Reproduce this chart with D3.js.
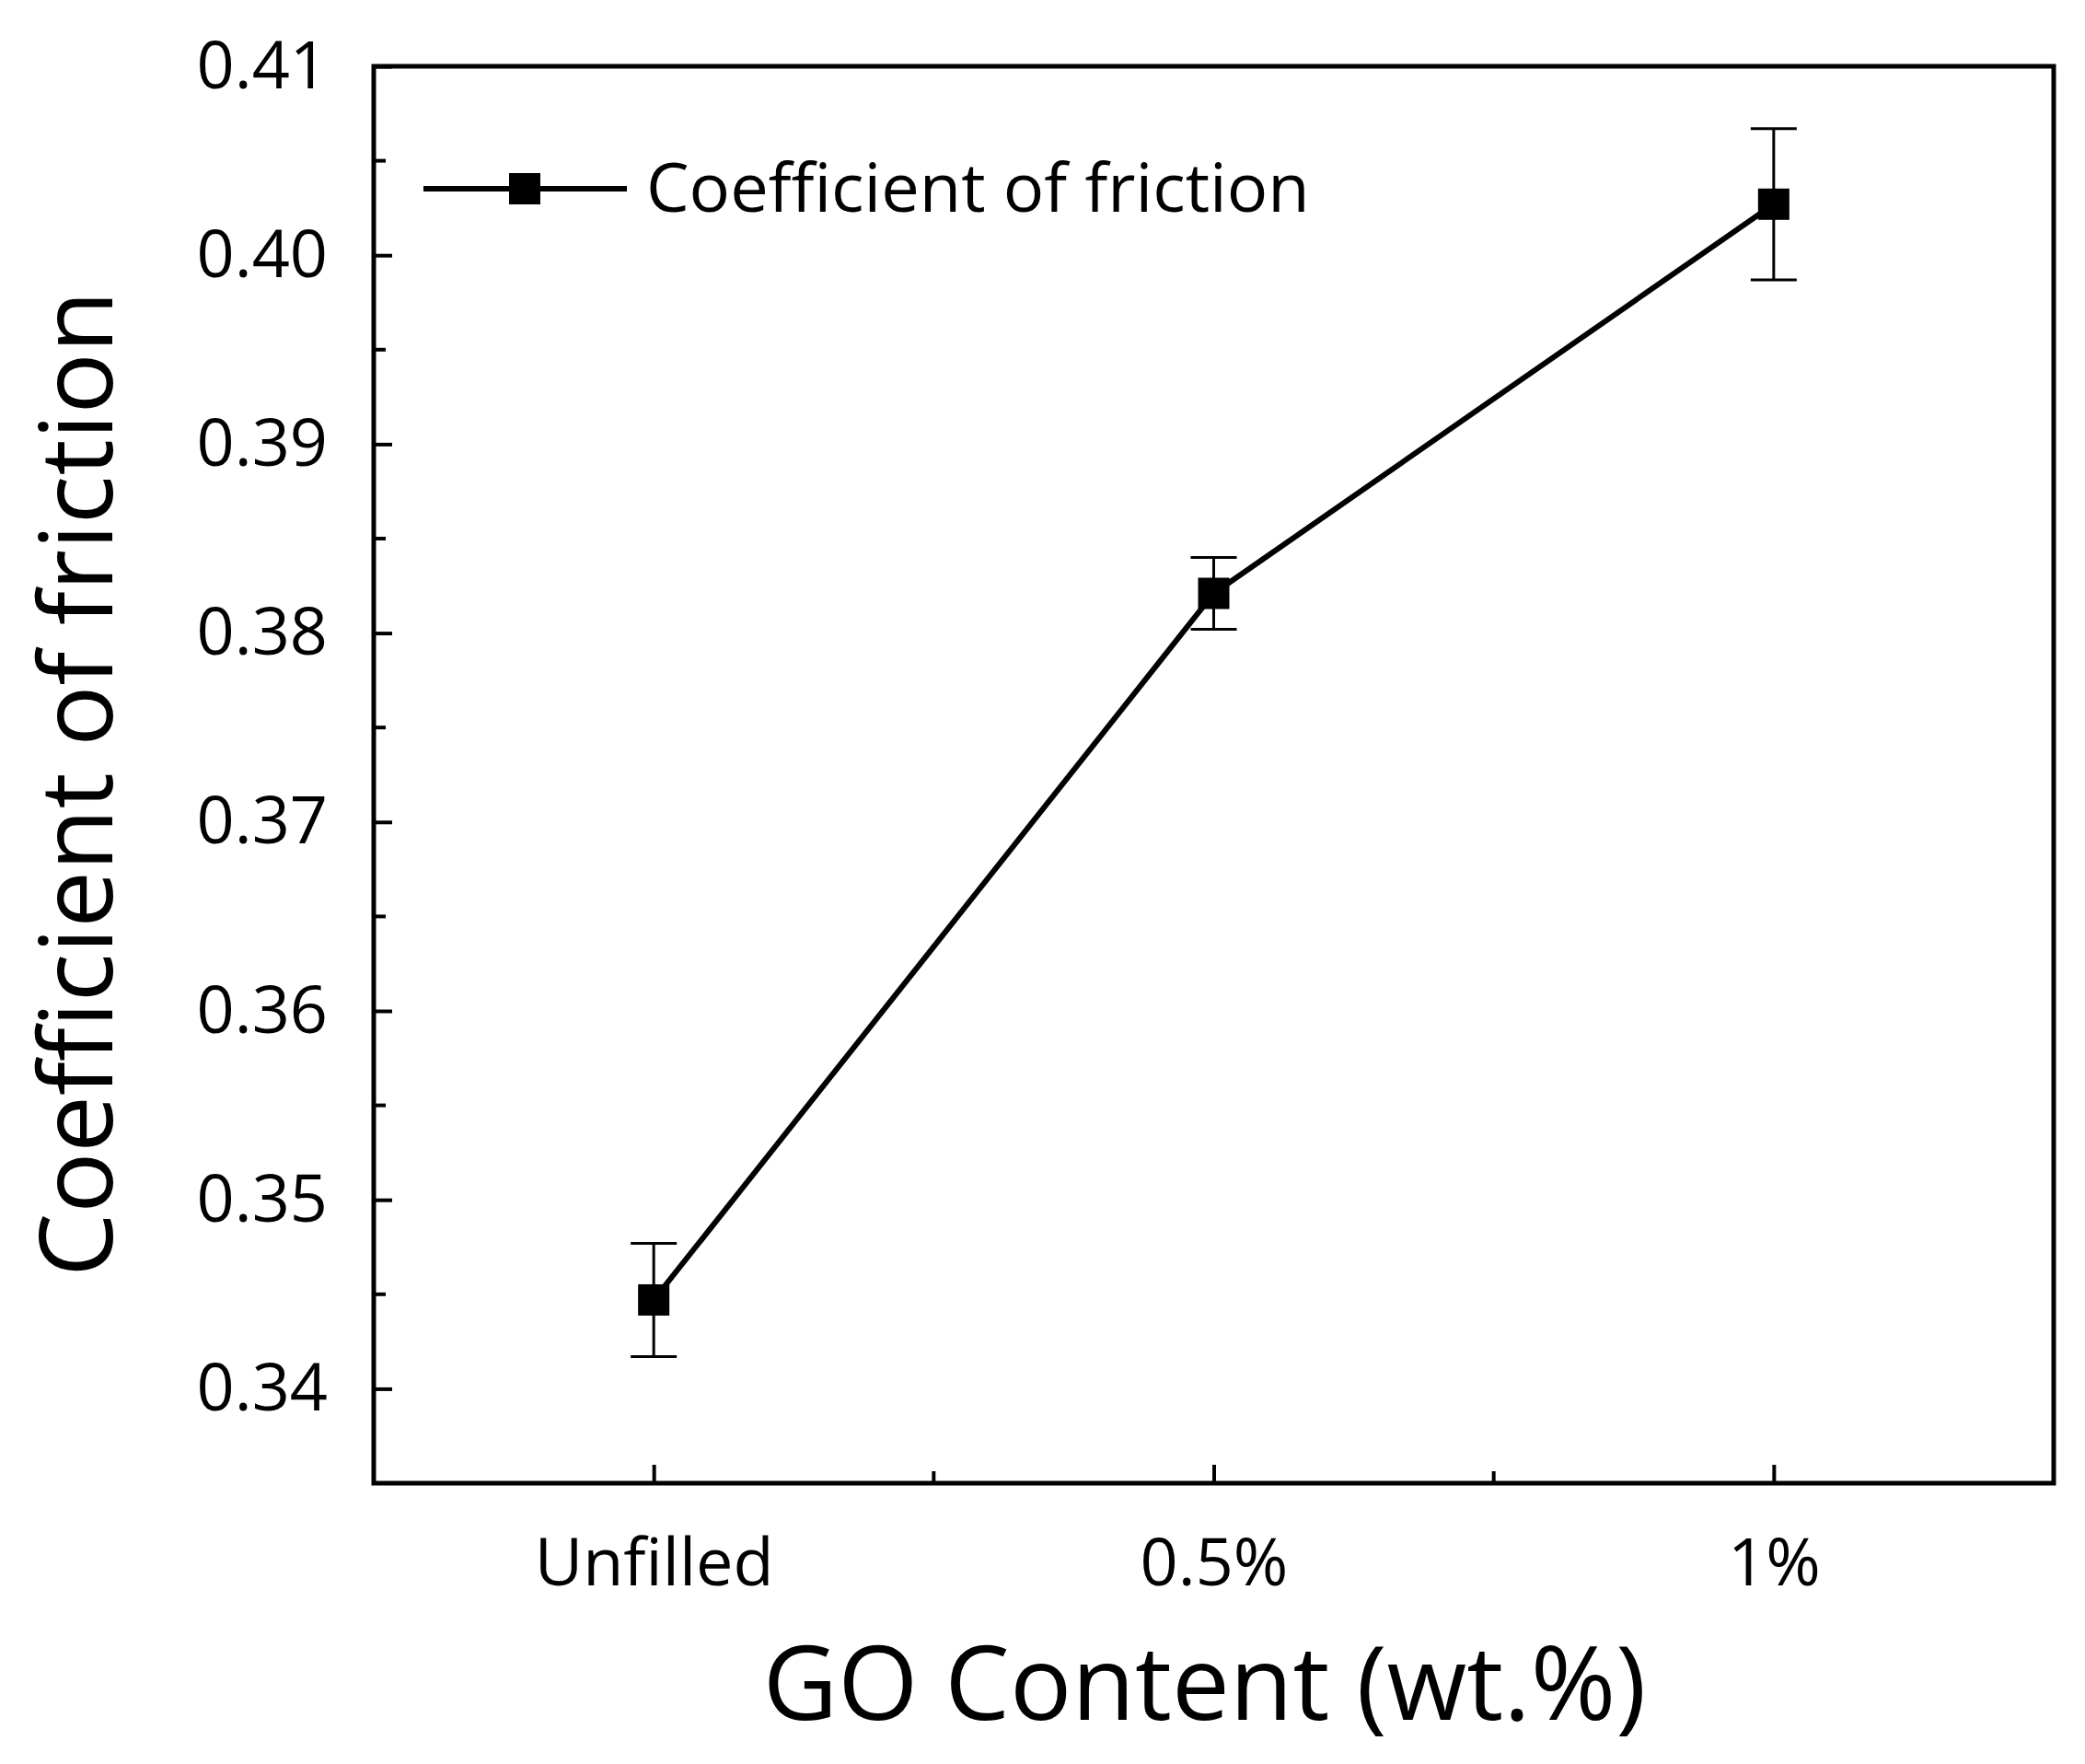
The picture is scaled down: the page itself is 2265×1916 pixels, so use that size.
<!DOCTYPE html>
<html><head><meta charset="utf-8">
<script src="https://cdn.jsdelivr.net/npm/d3@7"></script>
<style>body{margin:0;background:#fff}</style>
</head><body>
<svg id="canvas"></svg>
<script>
const width = 2265, height = 1916;
const margin = { top: 72, right: 34, bottom: 305, left: 406 };

// Dati
const categories = ["Unfilled", "0.5%", "1%"];
const cofValues  = [0.3447, 0.3821, 0.4027];
const cofErrors  = [0.0030, 0.0019, 0.0040];
const yTicks     = [0.34, 0.35, 0.36, 0.37, 0.38, 0.39, 0.40, 0.41];

const font = "'Open Sans', 'Noto Sans', sans-serif";
const svg = d3.select('#canvas').attr('width', width).attr('height', height);

const x = d3.scaleLinear().domain([-0.5, 2.5]).range([margin.left, width - margin.right]);
const y = d3.scaleLinear().domain([0.335, 0.41]).range([height - margin.bottom, margin.top]);
const x0 = margin.left, x1 = width - margin.right, y0 = height - margin.bottom, y1 = margin.top;

// Assi con tick interni
const yAxis = d3.axisLeft(y).tickValues(yTicks).tickFormat(d3.format('.2f')).tickSize(-20).tickPadding(50);
const gy = svg.append('g').attr('transform', `translate(${x0},0)`).call(yAxis);
const yMinor = d3.range(0.335, 0.41, 0.01).map(v => +v.toFixed(3)).filter(v => !yTicks.includes(v));
gy.selectAll('.minor').data(yMinor).enter().append('line')
  .attr('x1', 0).attr('x2', 13).attr('y1', d => y(d)).attr('y2', d => y(d))
  .attr('stroke', '#000').attr('stroke-width', 4);

const xAxis = d3.axisBottom(x).tickValues([0, 1, 2]).tickFormat(i => categories[i]).tickSize(-20).tickPadding(60);
const gx = svg.append('g').attr('transform', `translate(0,${y0})`).call(xAxis);
gx.selectAll('.minor').data([0.5, 1.5]).enter().append('line')
  .attr('x1', d => x(d)).attr('x2', d => x(d)).attr('y1', 0).attr('y2', -13)
  .attr('stroke', '#000').attr('stroke-width', 4);

[gx, gy].forEach(g => {
  g.select('.domain').remove();
  g.selectAll('.tick line').attr('stroke-width', 4);
  g.selectAll('text').attr('font-family', font).attr('font-size', 72).attr('fill', '#000');
});

// Cornice
svg.append('rect').attr('x', x0).attr('y', y1).attr('width', x1 - x0).attr('height', y0 - y1)
  .attr('fill', 'none').attr('stroke', '#000').attr('stroke-width', 5);

// Barre di errore
const pts = categories.map((c, i) => ({ i, v: cofValues[i], e: cofErrors[i] }));
const eb = svg.append('g').attr('stroke', '#000').attr('stroke-width', 3);
pts.forEach(d => {
  eb.append('line').attr('x1', x(d.i)).attr('x2', x(d.i)).attr('y1', y(d.v - d.e)).attr('y2', y(d.v + d.e));
  [d.v - d.e, d.v + d.e].forEach(v => eb.append('line')
    .attr('x1', x(d.i) - 25).attr('x2', x(d.i) + 25).attr('y1', y(v)).attr('y2', y(v)));
});

// Linea e marcatori
svg.append('path').datum(pts)
  .attr('d', d3.line().x(d => x(d.i)).y(d => y(d.v)))
  .attr('fill', 'none').attr('stroke', '#000').attr('stroke-width', 6);
const ms = 34;
svg.selectAll('.pt').data(pts).enter().append('rect')
  .attr('x', d => x(d.i) - ms / 2).attr('y', d => y(d.v) - ms / 2)
  .attr('width', ms).attr('height', ms).attr('fill', '#000');

// Legenda
const ly = 205;
svg.append('line').attr('x1', 460).attr('x2', 681).attr('y1', ly).attr('y2', ly)
  .attr('stroke', '#000').attr('stroke-width', 6);
svg.append('rect').attr('x', 570 - ms / 2).attr('y', ly - ms / 2).attr('width', ms).attr('height', ms);
svg.append('text').attr('x', 702).attr('y', ly + 25).attr('font-family', font).attr('font-size', 74)
  .text('Coefficient of friction');

// Titoli assi
svg.append('text').attr('transform', `translate(122,${(y0 + y1) / 2 + 10}) rotate(-90)`)
  .attr('text-anchor', 'middle').attr('font-family', font).attr('font-size', 110)
  .text('Coefficient of friction');
svg.append('text').attr('x', (x0 + x1) / 2 - 10).attr('y', 1868)
  .attr('text-anchor', 'middle').attr('font-family', font).attr('font-size', 112)
  .text('GO Content (wt.%)');
</script>
</body></html>
